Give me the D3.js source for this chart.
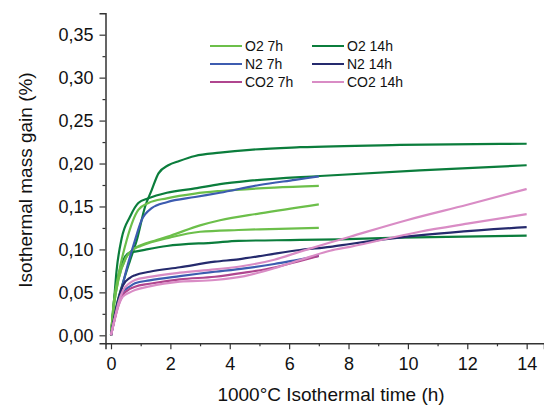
<!DOCTYPE html>
<html>
<head>
<meta charset="utf-8">
<script src="https://cdn.jsdelivr.net/npm/d3@7"></script>
<style>
  body { margin: 0; background: #fff; }
  text { font-family: Arial, "Liberation Sans", sans-serif; fill: #111; }
</style>
</head>
<body>
<div class="canvas"></div>
<script>
// series: [time (h), mass gain (%)]
const o2_7h_a = [[0,0],[0.1,0.04],[0.25,0.07],[0.53,0.111],[0.92,0.146],[1.26,0.154],[1.88,0.1595],[2.83,0.165],[3.67,0.168],[5.5,0.172],[7,0.174]];
const o2_7h_b = [[0,0],[0.1,0.035],[0.25,0.065],[0.5,0.09],[0.75,0.1],[1.0,0.105],[1.54,0.111],[2,0.116],[3,0.128],[3.67,0.134],[5.02,0.142],[7,0.1525]];
const o2_7h_c = [[0,0],[0.1,0.035],[0.25,0.065],[0.5,0.09],[0.75,0.1],[1.0,0.104],[2,0.114],[3,0.1206],[4.29,0.1226],[5.02,0.1234],[7,0.125]];
const o2_14h_a = [[0,0],[0.19,0.035],[0.41,0.062],[0.64,0.087],[0.87,0.111],[1.15,0.150],[1.37,0.169],[1.6,0.1886],[1.93,0.198],[2.3,0.203],[2.83,0.2088],[3.67,0.2126],[4.68,0.216],[6.37,0.219],[9.73,0.2216],[14,0.223]];
const o2_14h_b = [[0,0],[0.08,0.03],[0.19,0.076],[0.36,0.113],[0.64,0.138],[0.92,0.154],[1.26,0.1595],[1.88,0.166],[2.83,0.171],[3.67,0.176],[4.68,0.18],[7.04,0.1855],[10.4,0.192],[14,0.198]];
const o2_14h_c = [[0,0],[0.1,0.04],[0.25,0.07],[0.45,0.09],[0.64,0.0965],[0.81,0.0974],[1.2,0.1],[1.88,0.104],[3.5,0.108],[4.29,0.110],[6.37,0.111],[7.71,0.1118],[9.73,0.1137],[14,0.116]];
const n2_7h_a = [[0,0],[0.135,0.022],[0.25,0.04],[0.4,0.06],[0.58,0.084],[0.81,0.111],[1.03,0.134],[1.37,0.148],[1.88,0.155],[2.83,0.161],[3.67,0.166],[5,0.175],[6.2,0.181],[7,0.185]];
const n2_7h_b = [[0,0],[0.135,0.022],[0.25,0.037],[0.4,0.05],[0.64,0.057],[0.81,0.0605],[1.3,0.064],[2.32,0.069],[3,0.072],[3.5,0.074],[4.5,0.078],[5.5,0.083],[6.25,0.0877],[7,0.0925]];
const n2_14h = [[0,0],[0.135,0.025],[0.25,0.042],[0.4,0.058],[0.64,0.067],[0.81,0.070],[1.3,0.074],[2.32,0.0792],[3.5,0.0857],[4.29,0.0885],[5.24,0.0935],[6.37,0.0993],[7.38,0.103],[8.05,0.1063],[9.96,0.1148],[14,0.126]];
const co2_7h = [[0,0],[0.135,0.02],[0.25,0.035],[0.4,0.047],[0.64,0.054],[0.81,0.0566],[1.3,0.06],[2.32,0.0652],[3.5,0.0682],[4.5,0.073],[5.5,0.079],[6.4,0.087],[7,0.0923]];
const co2_14h_a = [[0,0],[0.135,0.021],[0.25,0.038],[0.4,0.052],[0.64,0.061],[0.81,0.0644],[1.3,0.068],[2.32,0.0729],[3.5,0.0768],[4.5,0.081],[5.5,0.088],[6.37,0.0974],[7.38,0.108],[8.05,0.1148],[9.96,0.134],[12,0.152],[14,0.1703]];
const co2_14h_b = [[0,0],[0.135,0.02],[0.25,0.034],[0.4,0.045],[0.64,0.05],[0.81,0.0527],[1.3,0.057],[2.32,0.0624],[3.5,0.0644],[4.5,0.069],[5.5,0.078],[6.37,0.0877],[7.38,0.0985],[8.05,0.103],[10.4,0.1206],[12,0.13],[14,0.141]];

const seriesNames = ['O2 7h', 'N2 7h', 'CO2 7h', 'O2 14h', 'N2 14h', 'CO2 14h'];
const seriesColors = ['#6cbf4a', '#3d5cb0', '#b0468f', '#0b7d3c', '#252a6d', '#d98cc5'];
const seriesCurves = [
  [o2_7h_a, o2_7h_b, o2_7h_c],
  [n2_7h_a, n2_7h_b],
  [co2_7h],
  [o2_14h_a, o2_14h_b, o2_14h_c],
  [n2_14h],
  [co2_14h_a, co2_14h_b]
];
// drawing order (later on top)
const drawOrder = [3, 0, 1, 4, 2, 5];

const xTicks = [0, 2, 4, 6, 8, 10, 12, 14];
const xMinor = [1, 3, 5, 7, 9, 11, 13];
const yTicks = [0, 0.05, 0.10, 0.15, 0.20, 0.25, 0.30, 0.35];
const yTickLabels = ['0,00', '0,05', '0,10', '0,15', '0,20', '0,25', '0,30', '0,35'];
const yMinor = [0.025, 0.075, 0.125, 0.175, 0.225, 0.275, 0.325];

const width = 544, height = 408;
const svg = d3.select('.canvas')
  .append('svg')
    .attr('width', width)
    .attr('height', height);

const plotLeft = 105.5, plotTop = 13.3, plotBottom = 343.3;

const x = d3.scaleLinear()
  .domain([-0.185, 14.584])
  .range([plotLeft, width]);

const y = d3.scaleLinear()
  .domain([-0.0093, 0.3749])
  .range([plotBottom, plotTop]);

// curves
const line = d3.line()
  .curve(d3.curveMonotoneX)
  .x(d => x(d[0]))
  .y(d => y(d[1]));

const plot = svg.append('g');
drawOrder.forEach(i => {
  plot.selectAll(null)
    .data(seriesCurves[i])
    .enter()
    .append('path')
      .attr('d', line)
      .attr('fill', 'none')
      .attr('stroke', seriesColors[i])
      .attr('stroke-width', 2.2)
      .attr('stroke-linejoin', 'round');
});

// axes
const axisColor = '#333';

const xAxisGroup = svg.append('g')
  .attr('transform', `translate(0, ${plotBottom})`);
xAxisGroup.call(d3.axisBottom(x).tickValues(xTicks).tickSize(6).tickPadding(8).tickFormat(d => d));
xAxisGroup.append('g')
  .call(d3.axisBottom(x).tickValues(xMinor).tickSize(3).tickFormat(''))
  .select('.domain').remove();

const yAxisGroup = svg.append('g')
  .attr('transform', `translate(${plotLeft}, 0)`);
yAxisGroup.call(d3.axisLeft(y).tickValues(yTicks).tickSize(6).tickPadding(6)
  .tickFormat((d, i) => yTickLabels[i]));
yAxisGroup.append('g')
  .call(d3.axisLeft(y).tickValues(yMinor).tickSize(3).tickFormat(''))
  .select('.domain').remove();

svg.selectAll('.domain').attr('stroke', axisColor).attr('stroke-width', 1.5);
svg.selectAll('.tick line').attr('stroke', axisColor).attr('stroke-width', 1.2);
svg.selectAll('.tick text')
  .attr('font-size', 18)
  .attr('font-family', 'Arial, "Liberation Sans", sans-serif')
  .attr('fill', '#111');

// axis titles
svg.append('text')
  .attr('x', 331)
  .attr('y', 401)
  .attr('text-anchor', 'middle')
  .attr('font-size', 19)
  .text('1000°C Isothermal time (h)');

svg.append('text')
  .attr('transform', 'translate(32, 180) rotate(-90)')
  .attr('text-anchor', 'middle')
  .attr('font-size', 19)
  .text('Isothermal mass gain (%)');

// legend, two columns of three rows
const legend = svg.append('g');
seriesNames.forEach((name, i) => {
  const col = Math.floor(i / 3), row = i % 3;
  const lx = 210 + col * 102, ly = 46 + row * 18;
  legend.append('line')
    .attr('x1', lx).attr('x2', lx + 32)
    .attr('y1', ly).attr('y2', ly)
    .attr('stroke', seriesColors[i])
    .attr('stroke-width', 2);
  legend.append('text')
    .attr('x', lx + 35)
    .attr('y', ly + 5)
    .attr('font-size', 14)
    .text(name);
});
</script>
</body>
</html>
